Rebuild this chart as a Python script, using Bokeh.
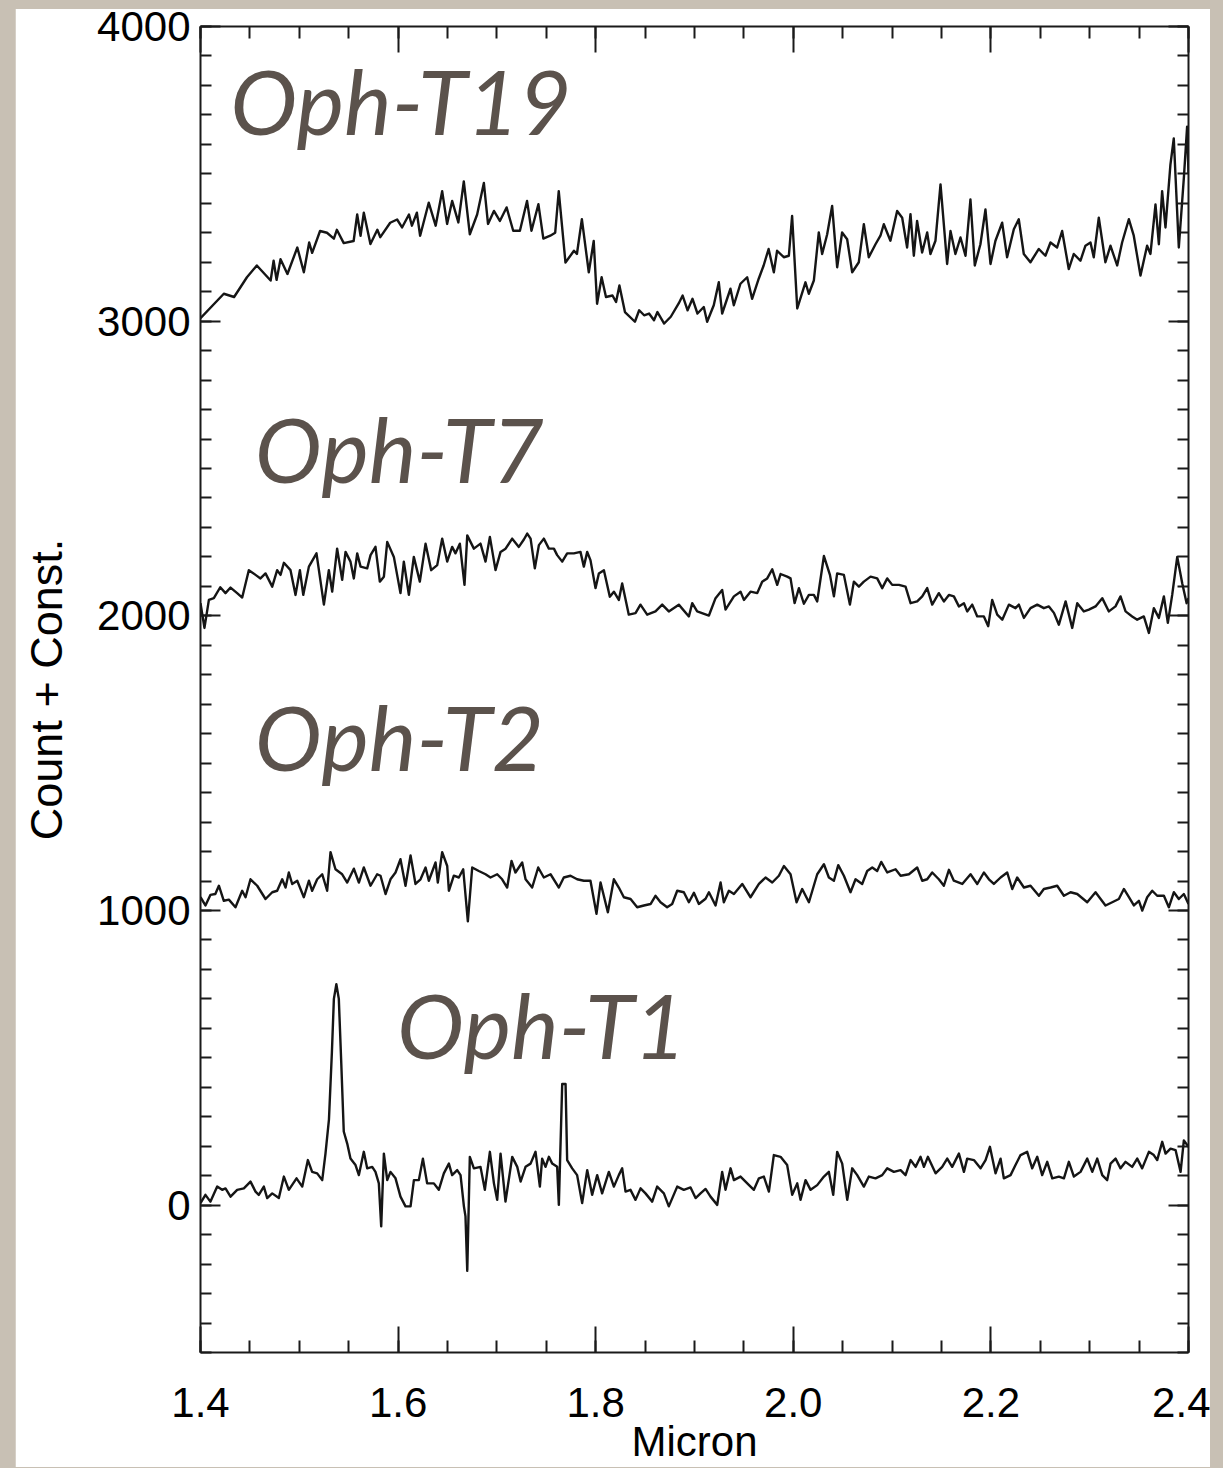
import numpy as np
from bokeh.plotting import figure
from bokeh.models import (LinearAxis, FixedTicker, Range1d, PrintfTickFormatter, ColumnDataSource,
                          CustomJSTickFormatter)
from bokeh.core.properties import value
from bokeh.embed import file_html
from bokeh.resources import INLINE

# ---------------- data ----------------
x_ticks = [1.4, 1.6, 1.8, 2.0, 2.2, 2.4]
y_ticks = [0, 1000, 2000, 3000, 4000]

series_names = ["Oph-T19", "Oph-T7", "Oph-T2", "Oph-T1"]

t19_x = [1.400, 1.4236, 1.434, 1.447, 1.457, 1.471, 1.474, 1.477, 1.481, 1.488, 1.498, 1.5046, 1.510, 1.513,
         1.521, 1.528, 1.535, 1.538, 1.545, 1.555, 1.5586, 1.562, 1.5653, 1.572, 1.579, 1.582, 1.592, 1.599,
         1.604, 1.611, 1.614, 1.619, 1.6223, 1.631, 1.638, 1.6446, 1.6496, 1.6547, 1.661, 1.6665, 1.6726, 1.680,
         1.6868, 1.691, 1.697, 1.703, 1.7098, 1.7165, 1.7233, 1.7305, 1.735, 1.742, 1.747, 1.754, 1.759, 1.7626,
         1.7694, 1.778, 1.781, 1.786, 1.793, 1.798, 1.8014, 1.806, 1.8104, 1.817, 1.8206, 1.824, 1.8296, 1.8397,
         1.844, 1.849, 1.854, 1.859, 1.8625, 1.8693, 1.876, 1.884, 1.888, 1.893, 1.898, 1.903, 1.9094, 1.9128,
         1.9195, 1.9246, 1.928, 1.9364, 1.9398, 1.9465, 1.9533, 1.9583, 1.965, 1.970, 1.975, 1.9803, 1.9836,
         1.9904, 1.9955, 1.9988, 2.004, 2.0123, 2.0157, 2.0208, 2.0258, 2.0292, 2.0343, 2.0393, 2.0444, 2.0494,
         2.0545, 2.0596, 2.0663, 2.0714, 2.0764, 2.0832, 2.0882, 2.0916, 2.0983, 2.1051, 2.1102, 2.1152, 2.1186,
         2.122, 2.1253, 2.1304, 2.1355, 2.1388, 2.1439, 2.149, 2.1557, 2.1591, 2.1641, 2.1692, 2.1743, 2.1793,
         2.1837, 2.1894, 2.1945, 2.1996, 2.2046, 2.2114, 2.2164, 2.2232, 2.2282, 2.2333, 2.240, 2.2485, 2.2552,
         2.2603, 2.267, 2.2721, 2.2788, 2.2839, 2.2906, 2.2957, 2.3008, 2.3041, 2.3092, 2.3159, 2.321, 2.3278,
         2.3328, 2.3396, 2.3446, 2.3514, 2.3581, 2.3615, 2.3666, 2.370, 2.3733, 2.3767, 2.3817, 2.3851, 2.3902,
         2.3953, 2.3986, 2.400]
t19_y = [3010, 3093, 3082, 3149, 3189, 3138, 3205, 3140, 3210, 3160, 3250, 3166, 3267, 3232,
         3306, 3300, 3280, 3310, 3265, 3272, 3362, 3290, 3368, 3262, 3310, 3285, 3334, 3345,
         3318, 3362, 3324, 3368, 3290, 3402, 3324, 3441, 3330, 3408, 3335, 3474, 3295, 3362,
         3469, 3330, 3374, 3340, 3386, 3307, 3307, 3408, 3307, 3397, 3280, 3290, 3300, 3441,
         3199, 3239, 3228, 3346, 3166, 3272, 3059, 3149, 3082, 3087, 3065, 3121, 3031, 2998,
         3037, 3020, 3026, 3003, 3031, 2992, 3015, 3060, 3087, 3037, 3076, 3026, 3048, 2998,
         3054, 3132, 3026, 3110, 3054, 3127, 3149, 3076, 3144, 3189, 3245, 3166, 3239,
         3217, 3222, 3357, 3043, 3132, 3093, 3138, 3301, 3228, 3295, 3391, 3183, 3301,
         3278, 3166, 3200, 3329, 3217, 3261, 3290, 3329, 3273, 3374, 3351, 3250, 3363,
         3222, 3340, 3233, 3301, 3228, 3273, 3464, 3194, 3306, 3228, 3284, 3222, 3413,
         3189, 3261, 3379, 3194, 3273, 3334, 3217, 3312, 3346, 3228, 3200, 3245, 3222,
         3267, 3250, 3306, 3177, 3228, 3205, 3256, 3267, 3217, 3351, 3200, 3256, 3189,
         3267, 3346, 3290, 3155, 3256, 3228, 3396, 3261, 3441, 3318, 3531, 3620, 3250,
         3486, 3660, 3500]

t7_x = [1.400, 1.404, 1.4085, 1.4135, 1.420, 1.4253, 1.4304, 1.4371, 1.4422, 1.4489, 1.4557, 1.4607, 1.4658,
        1.4726, 1.4776, 1.481, 1.4844, 1.4911, 1.4962, 1.5006, 1.504, 1.5097, 1.5174, 1.5249, 1.5299, 1.5333,
        1.5383, 1.5434, 1.5468, 1.5518, 1.5552, 1.5586, 1.562, 1.5687, 1.5721, 1.5771, 1.5815, 1.5856, 1.589,
        1.5957, 1.6024, 1.6058, 1.6109, 1.6159, 1.622, 1.6278, 1.6335, 1.6396, 1.6446, 1.6497, 1.6547, 1.6581,
        1.6625, 1.6672, 1.670, 1.6767, 1.6834, 1.6885, 1.6929, 1.6986, 1.7037, 1.7088, 1.7155, 1.7222, 1.7273,
        1.7307, 1.7341, 1.7384, 1.7425, 1.7475, 1.7526, 1.7577, 1.761, 1.7661, 1.7711, 1.7779, 1.7846, 1.788,
        1.7914, 1.7947, 1.7998, 1.8032, 1.8083, 1.8143, 1.8184, 1.8234, 1.8268, 1.8335, 1.8403, 1.8453, 1.8521,
        1.8605, 1.8673, 1.874, 1.8841, 1.8943, 1.8977, 1.9027, 1.9146, 1.9213, 1.928, 1.9314, 1.9399, 1.9466,
        1.95, 1.9567, 1.9635, 1.9685, 1.9736, 1.9787, 1.9837, 1.9871, 1.9938, 1.9972, 2.0013, 2.0057, 2.0107,
        2.0158, 2.0208, 2.0242, 2.031, 2.0371, 2.0411, 2.0444, 2.0512, 2.0573, 2.0613, 2.0664, 2.0714, 2.0782,
        2.0849, 2.09, 2.0951, 2.1001, 2.1069, 2.1136, 2.1187, 2.1254, 2.1305, 2.1355, 2.1406, 2.1473, 2.1524,
        2.1575, 2.1625, 2.1676, 2.1727, 2.176, 2.1811, 2.1862, 2.1929, 2.1973, 2.2013, 2.2064, 2.2115, 2.2182,
        2.2249, 2.2283, 2.2334, 2.2401, 2.2469, 2.2536, 2.2587, 2.2638, 2.2688, 2.2756, 2.2823, 2.2874, 2.2941,
        2.2992, 2.3059, 2.3127, 2.3194, 2.3261, 2.3312, 2.3363, 2.343, 2.3481, 2.3548, 2.3599, 2.3649, 2.370,
        2.3751, 2.3791, 2.3835, 2.3886, 2.3937, 2.3981, 2.400]
t7_y = [2043, 1959, 2054, 2060, 2097, 2077, 2096, 2077, 2062, 2155, 2139, 2127, 2144,
        2099, 2155, 2139, 2180, 2155, 2071, 2155, 2071, 2167, 2212, 2038, 2155, 2082,
        2228, 2122, 2217, 2184, 2127, 2212, 2167, 2161, 2206, 2234, 2116, 2133, 2251,
        2200, 2077, 2184, 2071, 2200, 2116, 2245, 2155, 2172, 2262, 2184, 2234, 2212,
        2245, 2105, 2273, 2228, 2245, 2184, 2268, 2155, 2217, 2228, 2262, 2234, 2259,
        2279, 2262, 2161, 2240, 2262, 2228, 2228, 2206, 2184, 2212, 2212, 2217, 2167,
        2217, 2189, 2094, 2144, 2155, 2065, 2082, 2054, 2110, 2004, 2009, 2038, 2004,
        2015, 2038, 2015, 2038, 1998, 2043, 2015, 2001, 2060, 2088, 2021, 2066, 2082,
        2054, 2082, 2077, 2116, 2127, 2158, 2105, 2142, 2133, 2127, 2043, 2094, 2041,
        2071, 2071, 2049, 2203, 2139, 2066, 2144, 2139, 2038, 2116, 2099, 2116, 2133,
        2127, 2094, 2127, 2105, 2105, 2099, 2043, 2049, 2066, 2094, 2038, 2077, 2049,
        2071, 2066, 2032, 2043, 2015, 2038, 1998, 1998, 1965, 2054, 2004, 1987, 2038,
        2026, 2038, 1993, 2026, 2038, 2026, 2032, 2010, 1970, 2049, 1959, 2043, 2015,
        2021, 2032, 2060, 2015, 2032, 2066, 2015, 1998, 1987, 1998, 1942, 2026, 1993,
        2066, 1976, 2071, 2200, 2110, 2043, 2060]

t2_x = [1.400, 1.405, 1.410, 1.415, 1.4186, 1.4236, 1.4287, 1.4354, 1.4422, 1.4456, 1.4506, 1.4574, 1.4658,
        1.4726, 1.4776, 1.4827, 1.4861, 1.4894, 1.4928, 1.4979, 1.5046, 1.5097, 1.513, 1.5181, 1.5232, 1.5282,
        1.5316, 1.5366, 1.5434, 1.5485, 1.5552, 1.5603, 1.5653, 1.5721, 1.5788, 1.5822, 1.5873, 1.5923, 1.5974,
        1.6024, 1.6075, 1.6126, 1.6176, 1.6227, 1.6278, 1.6311, 1.6379, 1.6402, 1.6446, 1.6497, 1.6514, 1.6564,
        1.6615, 1.6659, 1.6706, 1.675, 1.6817, 1.6885, 1.6935, 1.7003, 1.7053, 1.7104, 1.7148, 1.7188, 1.7256,
        1.729, 1.7357, 1.7418, 1.7475, 1.7543, 1.7627, 1.7677, 1.7745, 1.7812, 1.788, 1.7947, 1.8008, 1.8049,
        1.8123, 1.8184, 1.8234, 1.8285, 1.8353, 1.842, 1.8488, 1.8555, 1.8605, 1.8656, 1.8723, 1.8774, 1.8825,
        1.8892, 1.8943, 1.8994, 1.9044, 1.9112, 1.9146, 1.9213, 1.9264, 1.9297, 1.9348, 1.9399, 1.9483, 1.9567,
        1.9652, 1.9719, 1.9787, 1.9854, 1.9905, 1.9972, 2.0033, 2.009, 2.0158, 2.0242, 2.031, 2.036, 2.0411,
        2.0455, 2.0512, 2.0579, 2.063, 2.0697, 2.0748, 2.0799, 2.0849, 2.089, 2.0951, 2.1035, 2.1086, 2.117,
        2.1254, 2.1305, 2.1355, 2.1406, 2.1473, 2.1524, 2.1575, 2.1625, 2.171, 2.1794, 2.1862, 2.1929, 2.198,
        2.203, 2.2098, 2.2165, 2.2216, 2.2266, 2.2334, 2.2401, 2.2486, 2.2536, 2.2604, 2.2671, 2.2739, 2.2806,
        2.2874, 2.2975, 2.3059, 2.316, 2.3228, 2.3295, 2.3346, 2.3397, 2.3447, 2.3498, 2.3532, 2.3582, 2.3633,
        2.3683, 2.3751, 2.3801, 2.3852, 2.3902, 2.3953, 2.400]
t2_y = [1045, 1017, 1053, 1056, 1084, 1033, 1037, 1011, 1067, 1045, 1106, 1084, 1039,
        1062, 1067, 1106, 1078, 1129, 1090, 1101, 1045, 1101, 1067, 1106, 1123, 1067,
        1198, 1140, 1123, 1095, 1142, 1095, 1146, 1084, 1123, 1118, 1056, 1106, 1129,
        1174, 1084, 1187, 1090, 1106, 1146, 1101, 1163, 1095, 1198, 1151, 1067, 1118,
        1112, 1140, 963, 1146, 1134, 1123, 1112, 1123, 1106, 1078, 1168, 1129, 1163,
        1106, 1078, 1146, 1112, 1123, 1078, 1112, 1118, 1106, 1101, 1101, 989, 1095,
        994, 1106, 1078, 1045, 1039, 1011, 1017, 1022, 1050, 1028, 1011, 1022, 1067,
        1062, 1028, 1060, 1022, 1040, 1062, 1017, 1095, 1028, 1067, 1056, 1090, 1045,
        1090, 1112, 1095, 1118, 1151, 1123, 1028, 1073, 1028, 1123, 1157, 1112, 1101,
        1154, 1118, 1062, 1106, 1090, 1134, 1146, 1134, 1165, 1129, 1140, 1118, 1123,
        1146, 1101, 1106, 1129, 1106, 1084, 1138, 1101, 1090, 1123, 1090, 1129, 1106,
        1090, 1112, 1129, 1073, 1112, 1078, 1084, 1050, 1073, 1078, 1084, 1050, 1062,
        1056, 1028, 1062, 1017, 1028, 1039, 1073, 1045, 1017, 1033, 1000, 1045, 1067,
        1050, 1050, 1011, 1062, 1039, 1056, 1022]

t1_x = [1.400, 1.405, 1.410, 1.4169, 1.4219, 1.4253, 1.4304, 1.4371, 1.4439, 1.4506, 1.4557, 1.459, 1.4641,
        1.4675, 1.4726, 1.4793, 1.4844, 1.4894, 1.4972, 1.503, 1.5087, 1.513, 1.5181, 1.5232, 1.5265, 1.530,
        1.533, 1.535, 1.5375, 1.540, 1.5425, 1.545, 1.5485, 1.5518, 1.5569, 1.5603, 1.5653, 1.5687, 1.5738,
        1.5771, 1.5805, 1.5829, 1.5856, 1.589, 1.5923, 1.5974, 1.6024, 1.6075, 1.6126, 1.616, 1.621, 1.6251,
        1.6294, 1.6362, 1.6412, 1.6463, 1.6514, 1.6547, 1.6598, 1.6632, 1.6666, 1.6682, 1.670, 1.6726, 1.6767,
        1.6834, 1.6878, 1.6929, 1.697, 1.7003, 1.7037, 1.7087, 1.7155, 1.7206, 1.724, 1.729, 1.7341, 1.7391,
        1.7435, 1.7458, 1.7492, 1.7526, 1.756, 1.761, 1.7627, 1.7661, 1.7695, 1.7711, 1.7762, 1.7812, 1.7863,
        1.7914, 1.7964, 1.8015, 1.8065, 1.8133, 1.8184, 1.8234, 1.8268, 1.8302, 1.8352, 1.8403, 1.8454, 1.8504,
        1.8572, 1.8622, 1.869, 1.874, 1.8825, 1.8892, 1.896, 1.9011, 1.9061, 1.9112, 1.9162, 1.923, 1.928,
        1.9314, 1.9365, 1.9399, 1.9466, 1.9534, 1.9601, 1.9652, 1.9702, 1.9753, 1.9803, 1.9871, 1.9938, 1.9989,
        2.004, 2.0073, 2.0124, 2.0175, 2.0242, 2.031, 2.036, 2.0404, 2.0444, 2.0495, 2.0546, 2.0596, 2.0647,
        2.0714, 2.0765, 2.0832, 2.09, 2.0951, 2.1018, 2.1086, 2.1136, 2.1187, 2.1238, 2.1288, 2.1322, 2.1362,
        2.144, 2.1507, 2.1558, 2.1608, 2.1676, 2.1727, 2.176, 2.1828, 2.1895, 2.1946, 2.199, 2.2047, 2.2098,
        2.2131, 2.2199, 2.2249, 2.23, 2.2367, 2.2418, 2.2469, 2.2519, 2.257, 2.2621, 2.2688, 2.2739, 2.2789,
        2.284, 2.2907, 2.2975, 2.3026, 2.3076, 2.3127, 2.3177, 2.3211, 2.3262, 2.3312, 2.3363, 2.343, 2.3481,
        2.3531, 2.3599, 2.3649, 2.3683, 2.3734, 2.3768, 2.3818, 2.3869, 2.392, 2.3953, 2.400]
t1_y = [7, 35, 12, 63, 52, 57, 29, 52, 57, 80, 46, 35, 63,
        24, 40, 24, 97, 52, 91, 63, 153, 113, 108, 85, 175, 290,
        520, 700, 750, 700, 480, 250, 209, 158, 136, 102, 181, 125, 130,
        113, 74, -72, 175, 85, 113, 91, 29, -4, -4, 85, 85, 158,
        74, 74, 52, 108, 141, 102, 119, 102, -4, -38, -223, 164, 125,
        130, 52, 181, 74, 18, 175, 12, 164, 130, 80, 130, 141, 181,
        63, 158, 130, 164, 141, 130, 1, 411, 411, 153, 125, 102, 7,
        119, 35, 102, 40, 113, 63, 102, 125, 46, 52, 18, 57, 40,
        12, 63, 40, -4, 63, 52, 60, 24, 40, 55, 29, 1, 113,
        52, 125, 85, 97, 74, 52, 91, 97, 46, 170, 164, 136, 35,
        74, 18, 85, 52, 68, 97, 113, 35, 181, 141, 18, 125, 102,
        63, 97, 91, 102, 125, 113, 119, 102, 153, 130, 164, 130, 164,
        108, 130, 158, 130, 175, 113, 158, 153, 125, 153, 198, 108, 158,
        91, 102, 136, 170, 181, 125, 164, 102, 147, 91, 97, 91, 147,
        97, 113, 158, 113, 158, 102, 85, 141, 158, 125, 147, 130, 158,
        125, 181, 170, 153, 215, 175, 192, 187, 113, 220, 198]

# label anchor points (data coordinates, left / baseline)
label_x = [1.430, 1.455, 1.455, 1.599]
label_y = [3750, 2570, 1593, 615]

# ---------------- figure ----------------
INK = "#1a1a1a"
BEIGE = "#c8c0b4"
p = figure(width=1195, height=1467,
           x_range=Range1d(1.4, 2.4), y_range=Range1d(-500, 4000),
           output_backend="svg", toolbar_location=None,
           min_border_left=185, min_border_right=22, min_border_top=26, min_border_bottom=106,
           x_axis_label="Micron", y_axis_label="Count + Const.")
p.grid.visible = False
p.outline_line_color = None
p.background_fill_color = "white"
p.border_fill_color = "white"

x_minor = [round(1.4 + 0.05 * i, 2) for i in range(21)]
y_minor = list(range(-500, 4001, 100))
xticker = FixedTicker(ticks=x_ticks, minor_ticks=x_minor)
yticker = FixedTicker(ticks=y_ticks, minor_ticks=y_minor)


def style(ax, major, minor):
    ax.axis_line_width = 2
    ax.axis_line_color = INK
    ax.major_tick_in = major
    ax.major_tick_out = 0
    ax.minor_tick_in = minor
    ax.minor_tick_out = 0
    ax.major_tick_line_width = 2
    ax.minor_tick_line_width = 2
    ax.major_tick_line_color = INK
    ax.minor_tick_line_color = INK


xa = p.xaxis[0]
xa.ticker = xticker
xa.formatter = PrintfTickFormatter(format="%.1f")
style(xa, 26, 12)
xa.major_label_text_font = "Liberation Sans"
xa.major_label_text_font_size = "42px"
xa.major_label_text_color = "black"
xa.major_label_standoff = 35
xa.axis_label_text_font = "Liberation Sans"
xa.axis_label_text_font_size = "42px"
xa.axis_label_text_font_style = "normal"
xa.axis_label_text_color = "black"
xa.axis_label_standoff = -2

ya = p.yaxis[0]
ya.ticker = yticker
style(ya, 20, 11)
ya.major_label_text_font = "Liberation Sans"
ya.major_label_text_font_size = "42px"
ya.major_label_text_color = "black"
ya.major_label_standoff = 10
ya.axis_label_text_font = "Liberation Sans"
ya.axis_label_text_font_size = "45px"
ya.axis_label_text_font_style = "normal"
ya.axis_label_text_color = "black"
ya.axis_label_standoff = 22

blank = CustomJSTickFormatter(code="return ''")
top = LinearAxis(ticker=xticker, formatter=blank, major_label_text_font_size="1px", major_label_standoff=0)
style(top, 26, 12)
p.add_layout(top, "above")
right = LinearAxis(ticker=yticker, formatter=blank, major_label_text_font_size="1px", major_label_standoff=0)
style(right, 20, 11)
p.add_layout(right, "right")

for xs, ys in [(t19_x, t19_y), (t7_x, t7_y), (t2_x, t2_y), (t1_x, t1_y)]:
    p.line(xs, ys, line_width=2.4, line_color="#151515", line_join="round")

src = ColumnDataSource(dict(x=label_x, y=label_y, t=series_names))
p.text(x="x", y="y", text="t", source=src, text_font=value("Lato"), text_font_style="italic",
       text_font_size="90px", text_color="#5b524c", text_align="left", text_baseline="alphabetic")

html = file_html(p, INLINE, title="Oph spectra")
css = ("<style>html, body { background-color: " + BEIGE + " !important; } "
       "body { padding: 0 0 0 15px !important; }</style>")
html = html.replace("</head>", css + "\n</head>", 1)
strip = ('<div style="position:fixed;left:0;top:0;width:100%;height:9px;background:' + BEIGE +
         ';z-index:1000;"></div>')
html = html.replace("</body>", strip + "\n</body>", 1)
open("out.html", "w").write(html)
